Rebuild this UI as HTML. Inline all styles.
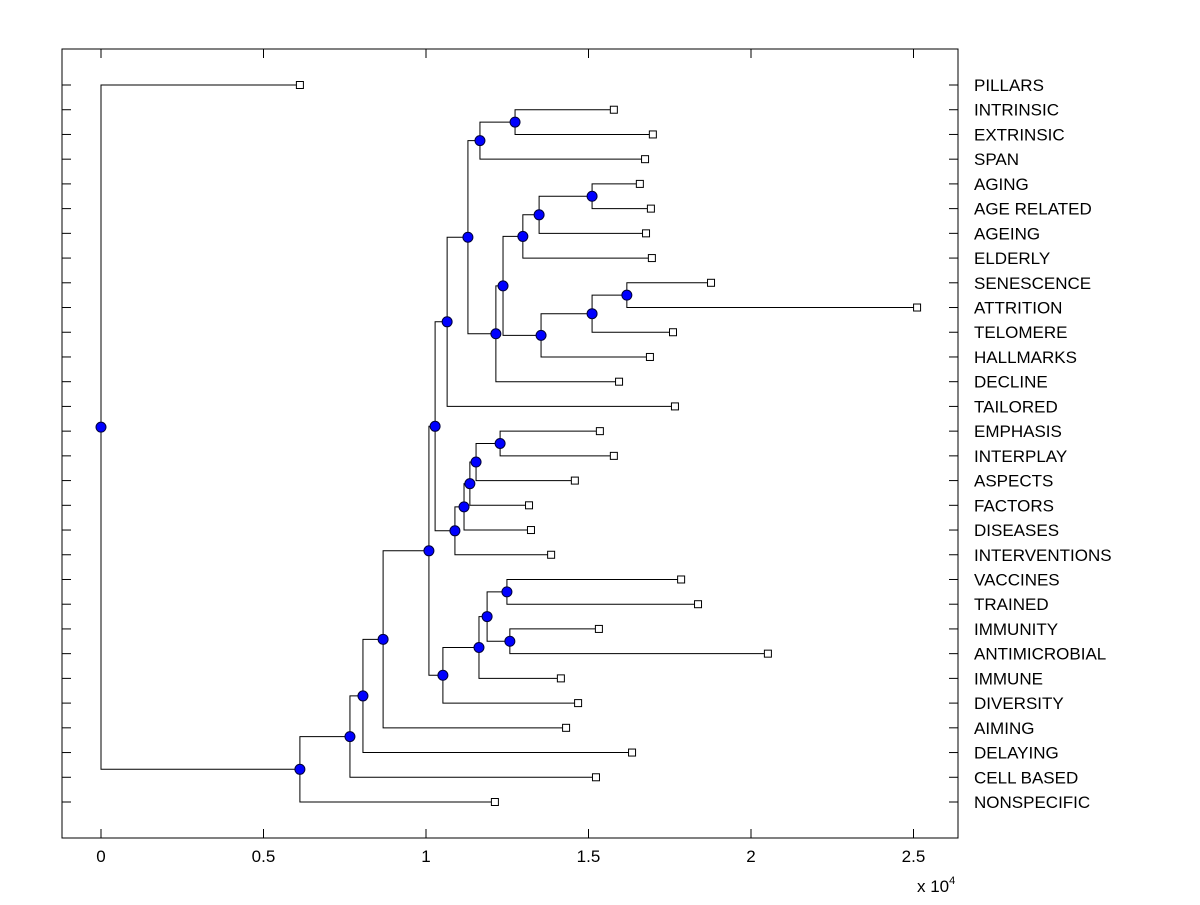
<!DOCTYPE html>
<html><head><meta charset="utf-8"><style>
html,body{margin:0;padding:0;background:#fff;}
svg text{font-family:"Liberation Sans",Arial,sans-serif;font-size:17px;fill:#000;}
</style></head><body>
<svg id="chart" width="1200" height="900" viewBox="0 0 1200 900" xmlns="http://www.w3.org/2000/svg">
<rect x="0" y="0" width="1200" height="900" fill="#fff"/>
<rect x="62" y="49" width="896" height="789" fill="none" stroke="#000" stroke-width="1"/>
<g id="grid"></g>
<g id="links"></g>
<g id="marks"></g>
<text x="917" y="892">x 10<tspan dy="-8" font-size="11">4</tspan></text>
</svg>
<script>
const labels = ["PILLARS","INTRINSIC","EXTRINSIC","SPAN","AGING","AGE RELATED","AGEING","ELDERLY","SENESCENCE","ATTRITION","TELOMERE","HALLMARKS","DECLINE","TAILORED","EMPHASIS","INTERPLAY","ASPECTS","FACTORS","DISEASES","INTERVENTIONS","VACCINES","TRAINED","IMMUNITY","ANTIMICROBIAL","IMMUNE","DIVERSITY","AIMING","DELAYING","CELL BASED","NONSPECIFIC"];
const leafHeights = [0.612,1.578,1.698,1.674,1.658,1.692,1.677,1.695,1.877,2.511,1.760,1.689,1.594,1.766,1.535,1.578,1.458,1.317,1.323,1.385,1.785,1.837,1.532,2.052,1.415,1.468,1.431,1.634,1.523,1.212];
// merges: [childA, childB] ; node ids continue from 30
const mergeChildren = [[1,2],[30,3],[4,5],[32,6],[33,7],[8,9],[35,10],[36,11],[34,37],[38,12],[31,39],[40,13],[14,15],[42,16],[43,17],[44,18],[45,19],[41,46],[20,21],[22,23],[48,49],[50,24],[51,25],[47,52],[53,26],[54,27],[55,28],[56,29],[0,57]];
const mergeHeights = [1.274,1.166,1.511,1.348,1.298,1.618,1.511,1.354,1.237,1.215,1.129,1.065,1.228,1.154,1.135,1.117,1.089,1.028,1.249,1.258,1.188,1.163,1.052,1.009,0.868,0.806,0.766,0.612,0];
const xTicks = [0,0.5,1,1.5,2,2.5];
const xTickLabels = ["0","0.5","1","1.5","2","2.5"];

const NS="http://www.w3.org/2000/svg";
const svg=document.getElementById('chart');
const gGrid=document.getElementById('grid'),gLinks=document.getElementById('links'),gMarks=document.getElementById('marks');
const xS=v=>101+v*325;
const yS=i=>85+i*(802-85)/29;
function mk(tag,attrs,parent){const e=document.createElementNS(NS,tag);for(const k in attrs)e.setAttribute(k,attrs[k]);parent.appendChild(e);return e;}

xTicks.forEach((t,i)=>{
  const x=xS(t);
  const a=mk('line',{x1:x,y1:838,x2:x,y2:829,stroke:'#000'},gGrid);
  
  
  const b=mk('line',{x1:x,y1:49,x2:x,y2:58,stroke:'#000'},gGrid);
  
  
  const tx=mk('text',{x:x,y:862,'text-anchor':'middle'},gGrid);
  tx.textContent=xTickLabels[i];
  
  
});
labels.forEach((l,i)=>{
  const y=yS(i);
  const a=mk('line',{x1:62,y1:y,x2:71,y2:y,stroke:'#000'},gGrid);
  
  
  const b=mk('line',{x1:958,y1:y,x2:949,y2:y,stroke:'#000'},gGrid);
  
  
  const t=mk('text',{x:974,y:y+6},gGrid);
  t.textContent=l;
  
  
});

const pos=[];
leafHeights.forEach((h,i)=>pos.push({x:xS(h),y:yS(i)}));
mergeChildren.forEach((c,k)=>{
  const a=pos[c[0]],b=pos[c[1]];
  const x=xS(mergeHeights[k]);
  pos.push({x:x,y:(a.y+b.y)/2});
  const p=mk('path',{d:`M${a.x},${a.y}H${x}V${b.y}H${b.x}`,fill:'none',stroke:'#000','stroke-width':1},gLinks);
  
  
});
leafHeights.forEach((h,i)=>{
  const p=pos[i];
  const r=mk('rect',{x:p.x-3.5,y:p.y-3.5,width:7,height:7,fill:'#fff',stroke:'#000'},gMarks);
  
  
});
mergeChildren.forEach((c,k)=>{
  const p=pos[30+k];
  const ci=mk('circle',{cx:p.x,cy:p.y,r:5,fill:'#0000ff',stroke:'#00003a'},gMarks);
  
  
});
</script>
</body></html>
